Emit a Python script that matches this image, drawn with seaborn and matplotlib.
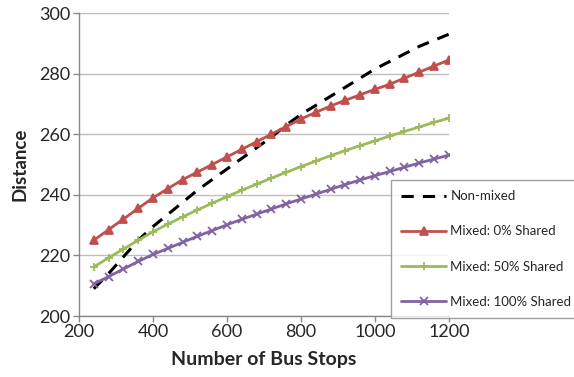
import matplotlib
matplotlib.use("Agg")
from matplotlib import pyplot as plt
import pandas as pd
import seaborn as sns

# bus stops (x) and distance values
stops = [240, 280, 320, 360, 400, 440, 480, 520, 560, 600, 640, 680, 720,
         760, 800, 840, 880, 920, 960, 1000, 1040, 1080, 1120, 1160, 1200]
non_mixed = [209, 214, 219.5, 225, 229.5, 233.5, 237.5, 241.5, 245, 248.5, 252, 255.5, 259,
             263, 266.5, 269.5, 272.5, 275.5, 278.5, 281.5, 284, 286.5, 289, 291, 293]
shared_0 = [225, 228.5, 232, 235.5, 239, 242, 245, 247.5, 250, 252.5, 255, 257.5, 260,
            262.5, 265, 267.2, 269.3, 271.2, 273, 274.8, 276.5, 278.5, 280.5, 282.5, 284.5]
shared_50 = [216.2, 219.2, 222.1, 225, 227.8, 230.3, 232.7, 235, 237.2, 239.4, 241.5, 243.5, 245.5,
             247.4, 249.3, 251.1, 252.9, 254.6, 256.2, 257.8, 259.4, 260.9, 262.4, 263.9, 265.3]
shared_100 = [210.6, 213, 215.5, 218, 220.3, 222.3, 224.3, 226.3, 228.2, 230.1, 231.9, 233.6, 235.3,
              237, 238.6, 240.2, 241.8, 243.4, 244.9, 246.3, 247.7, 249.1, 250.5, 251.8, 253.1]

labels = ["Non-mixed", "Mixed: 0% Shared", "Mixed: 50% Shared", "Mixed: 100% Shared"]

df = pd.DataFrame({
    "stops": stops * 4,
    "distance": non_mixed + shared_0 + shared_50 + shared_100,
    "series": [lab for lab in labels for _ in stops],
})

sns.set_style("white")
plt.rcParams['font.family'] = ['Lato', 'DejaVu Sans']

fig = plt.figure(figsize=(5.74, 3.77), dpi=100)
ax = fig.add_axes([0.1376, 0.1618, 0.6444, 0.8037])

colors = {"Non-mixed": "black", "Mixed: 0% Shared": "#C0504D",
          "Mixed: 50% Shared": "#9BBB59", "Mixed: 100% Shared": "#8064A2"}
markers = {"Non-mixed": "", "Mixed: 0% Shared": "^",
           "Mixed: 50% Shared": "+", "Mixed: 100% Shared": "x"}
sizes = {"Non-mixed": 0, "Mixed: 0% Shared": 6,
         "Mixed: 50% Shared": 6, "Mixed: 100% Shared": 5.5}

for lab in labels:
    sub = df[df.series == lab]
    if lab == "Non-mixed":
        sns.lineplot(x="stops", y="distance", data=sub, ax=ax, color=colors[lab],
                     linewidth=2.2, linestyle=(0, (4, 3)), label=lab)
    else:
        sns.lineplot(x="stops", y="distance", data=sub, ax=ax, color=colors[lab],
                     linewidth=2.0, marker=markers[lab], markersize=sizes[lab],
                     markeredgecolor=colors[lab], markeredgewidth=1.3, label=lab)

ax.set_xlim(200, 1200)
ax.set_ylim(200, 300)
ax.set_xticks([200, 400, 600, 800, 1000, 1200])
ax.set_yticks([200, 220, 240, 260, 280, 300])
ax.yaxis.grid(True, color="#BEBEBE", linewidth=1.0)
ax.xaxis.grid(False)
ax.set_axisbelow(True)
for side in ["top", "right"]:
    ax.spines[side].set_visible(False)
for side in ["left", "bottom"]:
    ax.spines[side].set_color("#888888")
    ax.spines[side].set_linewidth(1.0)
ax.tick_params(axis="both", which="both", direction="out", length=4, width=1,
               color="#888888", labelsize=13, pad=2, bottom=True, left=True)

ax.set_xlabel("Number of Bus Stops", fontsize=14, fontweight="bold", labelpad=8)
ax.set_ylabel("Distance", fontsize=13.5, fontweight="bold", labelpad=8)

ax.get_legend().remove()
handles, leg_labels = ax.get_legend_handles_labels()
fig.legend(handles, leg_labels, loc="upper left", bbox_to_anchor=(0.681, 0.523),
           fontsize=9.5, frameon=True, fancybox=False, edgecolor="#888888",
           handlelength=3.4, labelspacing=1.75, borderpad=0.8, handletextpad=0.3,
           borderaxespad=0)

fig.savefig("out.png", dpi=100)
